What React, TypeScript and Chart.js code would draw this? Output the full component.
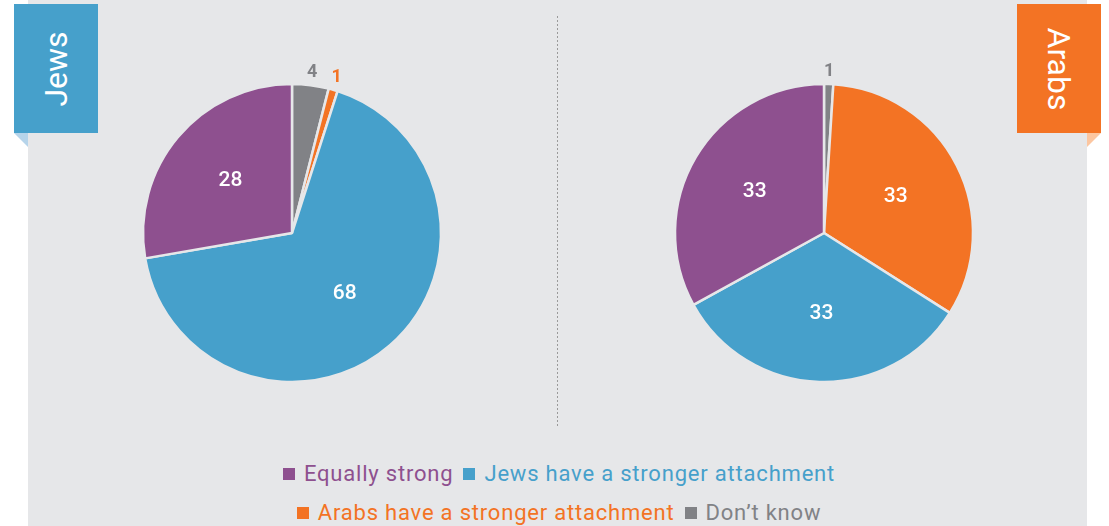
import React, { useEffect, useRef } from "react";
import { Chart, registerables } from "chart.js";

Chart.register(...registerables);

const categories = [
  "Equally strong",
  "Jews have a stronger attachment",
  "Arabs have a stronger attachment",
  "Don\u2019t know",
];
const colors = ["#8e508f", "#46a0cb", "#f37324", "#818286"];
const jewsValues = [28, 68, 1, 4];
const arabsValues = [33, 33, 33, 1];
const groupTitles = ["Jews", "Arabs"];

const BG = "#e6e7e9";
const FONT = "Roboto, 'Open Sans', sans-serif";

const labelPlugin = {
  id: "sliceLabels",
  afterDatasetsDraw(chart: any) {
    const ctx = chart.ctx;
    const meta = chart.getDatasetMeta(0);
    const ds = chart.data.datasets[0];
    ctx.save();
    ctx.textAlign = "center";
    ctx.textBaseline = "middle";
    meta.data.forEach((arc: any, i: number) => {
      const v = ds.data[i];
      const mid = (arc.startAngle + arc.endAngle) / 2;
      const R = arc.outerRadius;
      const small = v < 5;
      const r = small ? R + 13 : R * 0.54;
      const x = arc.x + Math.cos(mid) * r;
      const y = arc.y + Math.sin(mid) * r;
      if (small) {
        ctx.fillStyle = ds.backgroundColor[i];
        ctx.font = `bold 18px ${FONT}`;
      } else {
        ctx.fillStyle = "#ffffff";
        ctx.font = `500 21px ${FONT}`;
      }
      ctx.fillText(String(v), x, y);
    });
    ctx.restore();
  },
};

function PieChart({ values, left }: { values: number[]; left: number }) {
  const ref = useRef<HTMLCanvasElement | null>(null);
  useEffect(() => {
    if (!ref.current) return;
    const order = [3, 2, 1, 0];
    const chart = new Chart(ref.current, {
      type: "pie",
      data: {
        labels: order.map((i) => categories[i]),
        datasets: [
          {
            data: order.map((i) => values[i]),
            backgroundColor: order.map((i) => colors[i]),
            borderColor: BG,
            borderWidth: 2.5,
          },
        ],
      },
      options: {
        animation: false,
        responsive: false,
        maintainAspectRatio: false,
        radius: 149,
        layout: { padding: 0 },
        plugins: { legend: { display: false }, tooltip: { enabled: false } },
      },
      plugins: [labelPlugin],
    });
    return () => chart.destroy();
  }, [values]);
  return (
    <canvas
      ref={ref}
      width={400}
      height={400}
      style={{ position: "absolute", left, top: 33, width: 400, height: 400 }}
    />
  );
}

export default function App() {
  return (
    <div
      style={{
        position: "fixed",
        left: 0,
        top: 0,
        width: 1109,
        height: 526,
        background: "#ffffff",
        overflow: "hidden",
        fontFamily: FONT,
      }}
    >
      <div style={{ position: "absolute", left: 28, top: 0, width: 1059, height: 526, background: BG }} />
      <svg width={1109} height={526} style={{ position: "absolute", left: 0, top: 0 }}>
        <polygon points="14,133 28,133 28,147" fill="#b6d4ea" />
        <polygon points="1087,133 1101,133 1087,147" fill="#fcc6a0" />
        <line x1={557.5} y1={16} x2={557.5} y2={428} stroke="#9a9a9a" strokeWidth={1} strokeDasharray="2 2" />
      </svg>
      <div
        style={{
          position: "absolute",
          left: 14,
          top: 4,
          width: 84,
          height: 129,
          background: colors[1],
          display: "flex",
          alignItems: "center",
          justifyContent: "center",
        }}
      >
        <div style={{ transform: "rotate(-90deg)", color: "#fff", fontSize: 32, whiteSpace: "nowrap" }}>
          {groupTitles[0]}
        </div>
      </div>
      <div
        style={{
          position: "absolute",
          left: 1017,
          top: 4,
          width: 84,
          height: 129,
          background: colors[2],
          display: "flex",
          alignItems: "center",
          justifyContent: "center",
        }}
      >
        <div style={{ transform: "rotate(90deg)", color: "#fff", fontSize: 32, whiteSpace: "nowrap" }}>
          {groupTitles[1]}
        </div>
      </div>
      <PieChart values={jewsValues} left={92} />
      <PieChart values={arabsValues} left={624} />
      <div
        style={{
          position: "absolute",
          left: 229,
          top: 454,
          width: 660,
          display: "flex",
          flexWrap: "wrap",
          justifyContent: "center",
          columnGap: 10,
        }}
      >
        {categories.map((c, i) => (
          <div
            key={c}
            style={{
              display: "flex",
              alignItems: "center",
              height: 39,
              color: colors[i],
              fontSize: 22,
              letterSpacing: 0.8,
              whiteSpace: "nowrap",
            }}
          >
            <span style={{ width: 12, height: 12, background: colors[i], marginRight: 9, display: "inline-block" }} />
            {c}
          </div>
        ))}
      </div>
    </div>
  );
}
